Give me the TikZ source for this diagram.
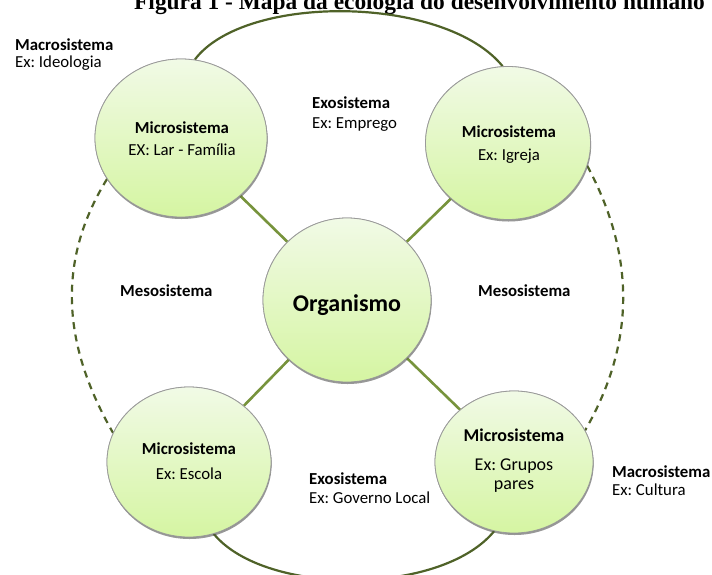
\documentclass[tikz,border=0pt]{standalone}
\usepackage{fontspec}
\setmainfont{Carlito}
\newfontfamily\titlefont{Liberation Serif}
\usetikzlibrary{shapes.geometric,shadows}
\frenchspacing

\definecolor{arcgreen}{HTML}{4F6228}
\definecolor{spokegreen}{HTML}{77933C}
\definecolor{discTop}{HTML}{F1FAE6}
\definecolor{discBottom}{HTML}{D5F5A2}
\definecolor{discEdge}{HTML}{9A9A9A}

\tikzset{
  disc/.style={ellipse, draw=discEdge, line width=0.8pt,
    top color=discTop, bottom color=discBottom,
    drop shadow={shadow xshift=0.6pt, shadow yshift=-2pt, opacity=0.35, fill=black!70},
    inner sep=0pt},
  spoke/.style={draw=spokegreen, line width=2.6pt},
  bond/.style={draw=arcgreen, line width=2.2pt},
  link/.style={draw=arcgreen, line width=2.2pt, dash pattern=on 7pt off 5.5pt},
  head/.style={font=\fontsize{16.8}{20}\selectfont\bfseries, inner sep=0pt},
  note/.style={font=\fontsize{16.8}{20}\selectfont, inner sep=0pt},
  bighead/.style={font=\fontsize{18}{21}\selectfont\bfseries, inner sep=0pt},
  bignote/.style={font=\fontsize{18}{21}\selectfont, inner sep=0pt},
}

\begin{document}
\begin{tikzpicture}[x=1pt, y=-1pt]
  \useasboundingbox (0,0) rectangle (712,574);

  % title line, partly above the page edge
  \node[anchor=base west, inner sep=0pt, font=\titlefont\bfseries\fontsize{23.4}{27}\selectfont]
    (title) at (134,9) {Figura 1 - Mapa da ecologia do desenvolvimento humano};

  % discs: four microsystems around the organism
  \node[disc, minimum width=172pt, minimum height=158pt] (tl) at (181,138) {};
  \node[disc, minimum width=165pt, minimum height=153pt] (tr) at (508,143) {};
  \node[disc, minimum width=164pt, minimum height=150pt] (bl) at (189,462) {};
  \node[disc, minimum width=158pt, minimum height=142pt] (br) at (514,462) {};
  \node[disc, minimum width=168pt, minimum height=164pt] (org) at (347,300) {};

  % spokes from the organism to each microsystem
  \draw[spoke] (org) -- (tl);
  \draw[spoke] (org) -- (tr);
  \draw[spoke] (org) -- (bl);
  \draw[spoke] (org) -- (br);

  % exosystem arcs (solid) and mesosystem arcs (dashed)
  \draw[bond] (tl.80) .. controls (245,-7) and (445,-5) .. (tr.94);
  \draw[bond] (bl.-71) .. controls (265,596) and (441,596) .. (br.-106);
  \draw[link] (tl.209) .. controls (54,265) and (65,349) .. (bl.159);
  \draw[link] (tr.-16) .. controls (634,253) and (637,340) .. (br.24);

  % redraw discs over the spoke ends
  \node[disc, minimum width=172pt, minimum height=158pt] at (181,138) {};
  \node[disc, minimum width=165pt, minimum height=153pt] at (508,143) {};
  \node[disc, minimum width=164pt, minimum height=150pt] at (189,462) {};
  \node[disc, minimum width=158pt, minimum height=142pt] at (514,462) {};
  \node[disc, minimum width=168pt, minimum height=164pt] at (347,300) {};

  % disc texts
  \node[head, anchor=base] (tlh) at (182,133) {Microsistema};
  \node[note, anchor=base] (tln) at (182,155) {EX: Lar - Família};
  \node[head, anchor=base] (trh) at (509,137) {Microsistema};
  \node[note, anchor=base] (trn) at (509,160) {Ex: Igreja};
  \node[head, anchor=base] (blh) at (189,454) {Microsistema};
  \node[note, anchor=base] (bln) at (189,479) {Ex: Escola};
  \node[bighead, anchor=base] (brh) at (514,441) {Microsistema};
  \node[bignote, anchor=base] (brn1) at (514,470) {Ex: Grupos};
  \node[bignote, anchor=base] (brn2) at (514,489) {pares};
  \node[anchor=base, inner sep=0pt, font=\fontsize{24}{28}\selectfont\bfseries]
    (orgt) at (347,311) {Organismo};

  % system labels
  \node[head, anchor=base west] (mac1) at (15,50) {Macrosistema};
  \node[note, anchor=base west] (mac1n) at (15,67) {Ex: Ideologia};
  \node[head, anchor=base west] (exo1) at (312,108) {Exosistema};
  \node[note, anchor=base west] (exo1n) at (312,128) {Ex: Emprego};
  \node[head, anchor=base west] (mes1) at (120,296) {Mesosistema};
  \node[head, anchor=base west] (mes2) at (478,296) {Mesosistema};
  \node[head, anchor=base west] (exo2) at (309,484) {Exosistema};
  \node[note, anchor=base west] (exo2n) at (309,503) {Ex: Governo Local};
  \node[head, anchor=base west] (mac2) at (612,477) {Macrosistema};
  \node[note, anchor=base west] (mac2n) at (612,495) {Ex: Cultura};
\end{tikzpicture}
\end{document}
